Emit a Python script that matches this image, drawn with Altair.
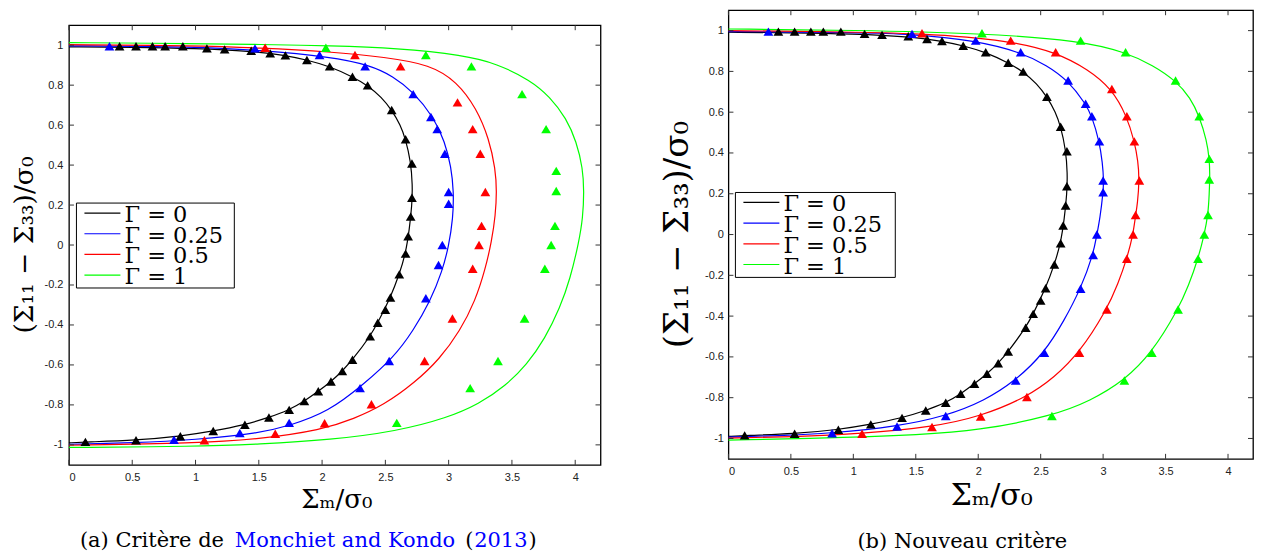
import altair as alt
import pandas as pd

LABELS = ["Γ = 0", "Γ = 0.25", "Γ = 0.5", "Γ = 1"]
COLORS = ["#000000", "#0000ff", "#ff0000", "#00ff00"]
X_TICKS = [0, 0.5, 1, 1.5, 2, 2.5, 3, 3.5, 4]
Y_TICKS = [-1, -0.8, -0.6, -0.4, -0.2, 0, 0.2, 0.4, 0.6, 0.8, 1]

# ---- markers (numerical results, same in both panels) ----
mk0_x = [0.40, 0.53, 0.66, 0.76, 0.90, 1.09, 1.23, 1.44, 1.59, 1.71, 1.88, 2.06, 2.24, 2.36, 2.55, 2.66, 2.71,
         2.71, 2.70, 2.68, 2.66, 2.61, 2.54, 2.50, 2.44, 2.38, 2.24, 2.16, 2.07, 1.97, 1.86, 1.74, 1.58, 1.39,
         1.14, 0.88, 0.53, 0.13]
mk0_y = [0.995, 0.995, 0.995, 0.995, 0.995, 0.984, 0.979, 0.972, 0.959, 0.949, 0.926, 0.894, 0.842, 0.799,
         0.676, 0.529, 0.408, 0.237, 0.142, 0.044, -0.043, -0.147, -0.263, -0.324, -0.389, -0.457, -0.574,
         -0.631, -0.683, -0.732, -0.781, -0.825, -0.863, -0.899, -0.931, -0.957, -0.977, -0.985]
mk1_x = [0.32, 1.47, 1.98, 2.34, 2.72, 2.86, 2.91, 2.97, 3.00, 3.00, 2.95, 2.92, 2.82, 2.53, 2.30, 1.74, 1.35, 0.83]
mk1_y = [0.995, 0.984, 0.951, 0.894, 0.755, 0.641, 0.580, 0.457, 0.265, 0.207, 0.0, -0.10, -0.266, -0.580,
         -0.716, -0.890, -0.941, -0.974]
mk2_x = [1.55, 2.26, 2.62, 3.07, 3.19, 3.25, 3.29, 3.26, 3.24, 3.19, 3.03, 2.81, 2.39, 2.02, 1.63, 1.07]
mk2_y = [0.987, 0.951, 0.894, 0.714, 0.580, 0.457, 0.265, 0.096, 0.0, -0.119, -0.368, -0.580, -0.797, -0.892,
         -0.944, -0.977]
mk3_x = [2.03, 2.82, 3.18, 3.58, 3.77, 3.85, 3.85, 3.84, 3.81, 3.76, 3.60, 3.39, 3.17, 2.59]
mk3_y = [0.987, 0.951, 0.894, 0.755, 0.580, 0.371, 0.270, 0.096, 0.0, -0.119, -0.368, -0.580, -0.716, -0.890]

# ---- curves, panel (b) : nouveau critère ----
cb0_x = [0, 0.5, 1.0, 1.44, 1.71, 1.88, 2.06, 2.24, 2.36, 2.47, 2.55, 2.62, 2.66, 2.70, 2.715, 2.71, 2.69, 2.66,
         2.61, 2.54, 2.44, 2.38, 2.24, 2.16, 2.07, 1.97, 1.86, 1.74, 1.58, 1.39, 1.14, 0.88, 0.53, 0.13, 0]
cb0_y = [0.992, 0.99, 0.984, 0.971, 0.949, 0.926, 0.894, 0.842, 0.799, 0.74, 0.676, 0.60, 0.529, 0.42, 0.30,
         0.20, 0.08, -0.043, -0.147, -0.263, -0.389, -0.457, -0.574, -0.631, -0.683, -0.732, -0.781, -0.825,
         -0.863, -0.899, -0.931, -0.957, -0.977, -0.986, -0.99]
cb1_x = [0, 0.32, 1.0, 1.47, 1.98, 2.34, 2.55, 2.72, 2.86, 2.91, 2.97, 2.995, 3.005, 3.0, 2.975, 2.95, 2.92,
         2.82, 2.69, 2.53, 2.30, 2.05, 1.74, 1.35, 0.83, 0.4, 0]
cb1_y = [0.995, 0.995, 0.99, 0.984, 0.951, 0.894, 0.83, 0.755, 0.641, 0.58, 0.457, 0.35, 0.265, 0.207, 0.08,
         0.0, -0.10, -0.266, -0.42, -0.58, -0.716, -0.815, -0.89, -0.941, -0.974, -0.987, -0.993]
cb2_x = [0, 0.8, 1.55, 2.26, 2.62, 2.88, 3.07, 3.19, 3.25, 3.28, 3.29, 3.275, 3.26, 3.24, 3.19, 3.12, 3.03,
         2.81, 2.61, 2.39, 2.02, 1.63, 1.07, 0.5, 0]
cb2_y = [1.0, 0.995, 0.987, 0.951, 0.894, 0.81, 0.714, 0.58, 0.457, 0.36, 0.265, 0.15, 0.096, 0.0, -0.119,
         -0.24, -0.368, -0.58, -0.70, -0.797, -0.892, -0.944, -0.977, -0.992, -0.998]
cb3_x = [0, 1.0, 2.03, 2.82, 3.18, 3.40, 3.58, 3.70, 3.77, 3.83, 3.85, 3.855, 3.85, 3.84, 3.81, 3.76, 3.685,
         3.60, 3.39, 3.17, 2.90, 2.59, 2.0, 1.5, 1.0, 0]
cb3_y = [1.008, 1.002, 0.987, 0.951, 0.894, 0.83, 0.755, 0.67, 0.58, 0.46, 0.371, 0.30, 0.20, 0.096, 0.0,
         -0.119, -0.25, -0.368, -0.58, -0.716, -0.815, -0.890, -0.962, -0.982, -0.995, -1.008]

# ---- curves, panel (a) : Monchiet and Kondo (2013) ----
ca0_x = cb0_x
ca0_y = cb0_y
ca1_x = [0, 1.0, 1.5, 2.07, 2.38, 2.56, 2.72, 2.88, 2.97, 3.02, 3.04, 3.035, 3.0, 2.95, 2.855, 2.72, 2.566,
         2.33, 2.05, 1.74, 1.5, 1.0, 0.5, 0]
ca1_y = [0.997, 0.992, 0.975, 0.942, 0.90, 0.845, 0.767, 0.642, 0.517, 0.39, 0.268, 0.135, -0.007, -0.13,
         -0.28, -0.429, -0.562, -0.696, -0.835, -0.905, -0.942, -0.975, -0.99, -0.997]
ca2_x = [0, 1.0, 1.5, 2.07, 2.5, 2.855, 3.066, 3.22, 3.32, 3.37, 3.38, 3.37, 3.34, 3.29, 3.21, 3.09, 2.93,
         2.73, 2.49, 2.25, 2.0, 1.5, 1.0, 0]
ca2_y = [1.003, 0.997, 0.987, 0.967, 0.94, 0.903, 0.817, 0.684, 0.53, 0.38, 0.268, 0.15, 0.02, -0.12,
         -0.28, -0.429, -0.57, -0.69, -0.80, -0.87, -0.925, -0.972, -0.992, -1.002]
ca3_x = [0, 1.0, 1.5, 2.07, 2.59, 3.12, 3.38, 3.645, 3.80, 3.93, 4.01, 4.06, 4.07, 4.06, 4.03, 3.96, 3.88,
         3.76, 3.62, 3.45, 3.24, 2.99, 2.59, 2.07, 1.5, 1.0, 0]
ca3_y = [1.013, 1.008, 1.004, 0.997, 0.985, 0.950, 0.908, 0.825, 0.742, 0.634, 0.517, 0.384, 0.268, 0.135,
         0.018, -0.170, -0.313, -0.47, -0.596, -0.705, -0.795, -0.865, -0.932, -0.975, -0.997, -1.008, -1.013]

MARKERS = [(mk0_x, mk0_y), (mk1_x, mk1_y), (mk2_x, mk2_y), (mk3_x, mk3_y)]
CURVES_A = [(ca0_x, ca0_y), (ca1_x, ca1_y), (ca2_x, ca2_y), (ca3_x, ca3_y)]
CURVES_B = [(cb0_x, cb0_y), (cb1_x, cb1_y), (cb2_x, cb2_y), (cb3_x, cb3_y)]

SERIF = "DejaVu Serif"
SANS = "Liberation Sans"
ONE = pd.DataFrame({"k": [0]})


def series_df(series):
    rows = []
    for lab, (xs, ys) in zip(LABELS, series):
        for i, (x, y) in enumerate(zip(xs, ys)):
            rows.append({"x": x, "y": y, "g": lab, "o": i})
    return pd.DataFrame(rows)


def text_layer(txt, x, y, size, color="black", angle=0, align="center", baseline="middle", dy=0):
    return alt.Chart(ONE).mark_text(text=txt, font=SERIF, fontSize=size, color=color, angle=angle,
                                    align=align, baseline=baseline, dy=dy).encode(
        x=alt.value(x), y=alt.value(y))


def make_panel(curves, W, H, o):
    xs = alt.Scale(domain=[0, 4.2], nice=False, zero=False)
    ys = alt.Scale(domain=[-1.1, 1.1], nice=False, zero=False)
    common = dict(ticks=False, tickSize=0, domain=False, grid=False, labelExpr="'' + datum.value",
                  labelFont=SANS, labelFontSize=11, labelColor="#222", title=None)
    xaxis = alt.Axis(values=X_TICKS, labelPadding=o["xlp"], **common)
    yaxis = alt.Axis(values=Y_TICKS, labelPadding=o["ylp"], **common)
    color = alt.Color("g:N", scale=alt.Scale(domain=LABELS, range=COLORS), legend=None)

    lines = alt.Chart(series_df(curves)).mark_line(strokeWidth=1.2, interpolate="basis").encode(
        x=alt.X("x:Q", scale=xs, axis=xaxis), y=alt.Y("y:Q", scale=ys, axis=yaxis),
        color=color, order=alt.Order("o:Q"))
    marks = alt.Chart(series_df(MARKERS)).mark_point(shape="triangle-up", filled=True, size=95,
                                                     opacity=1).encode(
        x=alt.X("x:Q", scale=xs, axis=xaxis), y=alt.Y("y:Q", scale=ys, axis=yaxis), color=color)

    xt = pd.DataFrame({"v": X_TICKS})
    yt = pd.DataFrame({"v": Y_TICKS})
    tl = 5
    ticks = [
        alt.Chart(xt).mark_rule(color="#333", strokeWidth=1).encode(
            x=alt.X("v:Q", scale=xs, axis=xaxis), y=alt.value(H), y2=alt.value(H - tl)),
        alt.Chart(xt).mark_rule(color="#333", strokeWidth=1).encode(
            x=alt.X("v:Q", scale=xs, axis=xaxis), y=alt.value(0), y2=alt.value(tl)),
        alt.Chart(yt).mark_rule(color="#333", strokeWidth=1).encode(
            y=alt.Y("v:Q", scale=ys, axis=yaxis), x=alt.value(0), x2=alt.value(tl)),
        alt.Chart(yt).mark_rule(color="#333", strokeWidth=1).encode(
            y=alt.Y("v:Q", scale=ys, axis=yaxis), x=alt.value(W), x2=alt.value(W - tl)),
    ]

    titles = [
        text_layer("Σₘ/σ₀", W / 2 + o["xtdx"], H + o["xty"], o["xtfs"], baseline="alphabetic"),
        text_layer("(Σ₁₁ − Σ₃₃)/σ₀", o["ytx"], H / 2, o["ytfs"], angle=270),
    ]

    lx, ly, lw, lh = o["leg"]
    legend = [alt.Chart(ONE).mark_rect(fill="white", stroke="black", strokeWidth=1).encode(
        x=alt.value(lx), x2=alt.value(lx + lw), y=alt.value(ly), y2=alt.value(ly + lh))]
    for i, (lab, col) in enumerate(zip(LABELS, COLORS)):
        yy = ly + 10 + i * 20.7
        legend.append(alt.Chart(ONE).mark_rule(color=col, strokeWidth=1.2).encode(
            x=alt.value(lx + 8), x2=alt.value(lx + 44), y=alt.value(yy)))
        legend.append(text_layer(lab, lx + 48, yy, 22.5, align="left", dy=2))

    caps = [text_layer(t, x, H + o["capy"], 21, color=c, align=a) for (t, x, c, a) in o["caption"]]

    return alt.layer(lines, marks, *ticks, *titles, *legend, *caps).properties(width=W, height=H)


WA, HA = 532, 440
WB, HB = 525, 449

panel_a = make_panel(CURVES_A, WA, HA, dict(
    xlp=7, ylp=6, xtdx=2, xty=43, xtfs=26, ytx=-44, ytfs=26.5, leg=(7.5, 178, 158, 85), capy=76,
    caption=[("(a) Critère de", 11, "black", "left"),
             ("Monchiet and Kondo", 166, "#0000ff", "left"),
             ("(", 396.5, "black", "left"),
             ("2013", 405.5, "#0000ff", "left"),
             (")", 460, "black", "left")]))

panel_b = make_panel(CURVES_B, WB, HB, dict(
    xlp=7, ylp=5, xtdx=1, xty=46, xtfs=30, ytx=-50, ytfs=34, leg=(7, 182.4, 160, 85), capy=83,
    caption=[("(b) Nouveau critère", 234, "black", "center")]))

spacer = alt.Chart(ONE).mark_point(opacity=0, size=4).encode(x=alt.value(10), y=alt.value(7)).properties(
    width=WA, height=12.4, view=alt.ViewBackground(strokeOpacity=0))

col_a = alt.vconcat(spacer, panel_a, spacing=0)

chart = alt.hconcat(col_a, panel_b, spacing=58).resolve_scale(
    color="independent").properties(
    padding={"left": 3, "top": 0, "right": 2, "bottom": 2}).configure_view(
    stroke="black", strokeWidth=1.3)

chart.save("out.html", embed_options={"renderer": "svg", "actions": False})
